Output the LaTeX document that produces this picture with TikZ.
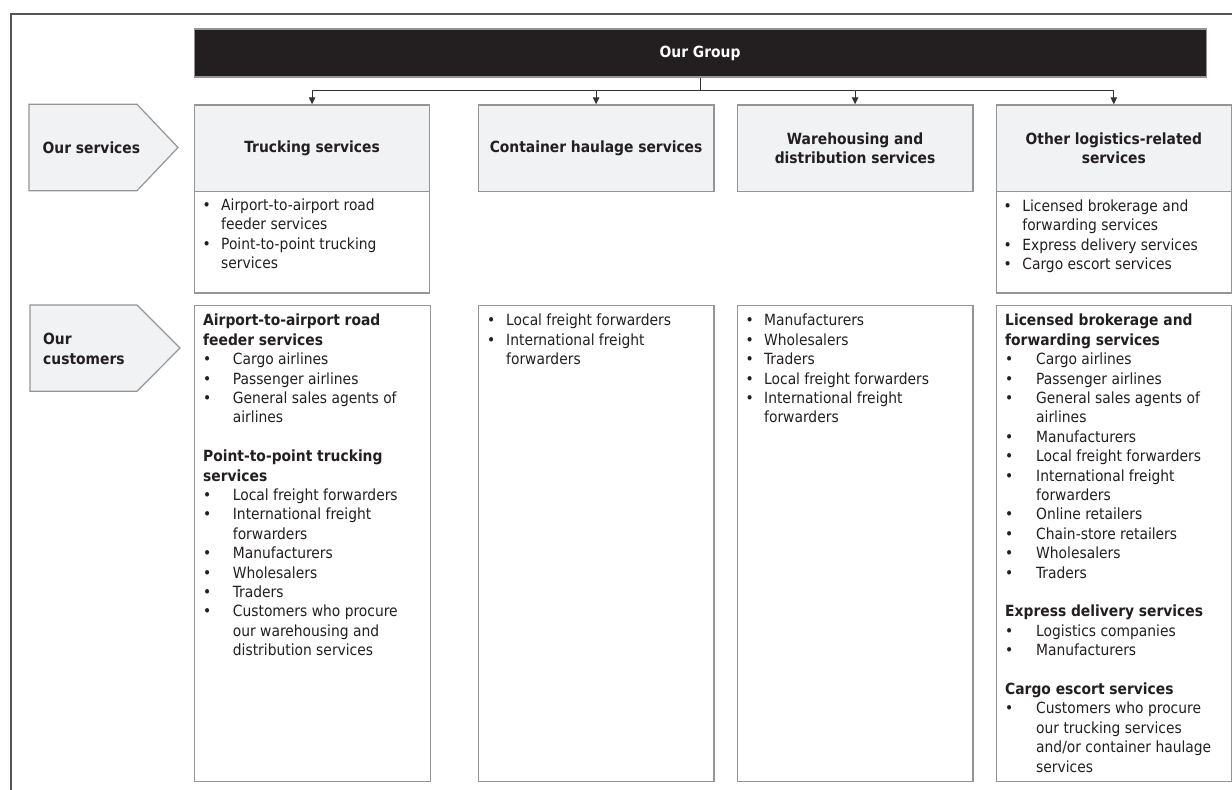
\documentclass[tikz,border=0pt]{standalone}
\usepackage{fontspec}
\setmainfont{DejaVu Sans Condensed}
\usepackage{array}
\usetikzlibrary{arrows.meta}
\definecolor{boxfill}{HTML}{F1F2F4}
\definecolor{boxline}{HTML}{959595}
\definecolor{ink}{HTML}{231F20}
\definecolor{frameline}{HTML}{555555}
\definecolor{connline}{HTML}{333333}
\newcommand{\fs}{\fontsize{15.4}{19.4}\selectfont}
\newcommand{\bul}{\textbullet}
\newcommand{\hd}[1]{\multicolumn{2}{@{}l@{}}{\bfseries #1}}
\tikzset{
  hdrbox/.style 2 args={draw=boxline, line width=1.2pt, fill=boxfill, anchor=north west,
    minimum width=#1, minimum height=#2, inner sep=0pt, align=center,
    font={\fs\bfseries}, text=ink},
  listbox/.style 2 args={draw=boxline, line width=1.2pt, fill=white, anchor=north west,
    minimum width=#1, minimum height=#2, inner sep=0pt},
  grpbox/.style 2 args={draw=boxline, line width=1.2pt, fill=ink, anchor=north west,
    minimum width=#1, minimum height=#2, inner sep=0pt, font={\fs\bfseries}, text=white},
  txt/.style={anchor=north west, inner sep=0pt, text=ink, font=\fs, align=left},
  pent/.style={draw=boxline, line width=1.2pt, fill=boxfill},
  conn/.style={draw=connline, line width=0.9pt, -{Triangle[width=6.5pt,length=7pt]}},
  frame/.style={draw=frameline, line width=1.3pt},
}
\begin{document}
\begin{tikzpicture}[x=1pt,y=-1pt]
\useasboundingbox (0,0) rectangle (1232,790);
% frame
\draw[frame] (1232,14) -- (11,14) -- (11,790);
% group
\node[grpbox={1012pt}{48pt}] (grp) at (193.5,28.3) {Our Group};
% service header boxes
\node[hdrbox={235pt}{86.5pt}] (truck) at (194,104.3) {Trucking services};
\node[hdrbox={235.6pt}{86.5pt}] (cont) at (477.7,104.3) {Container haulage services};
\node[hdrbox={235.6pt}{86.5pt}] (ware) at (736.7,104.3) {Warehousing and\\distribution services};
\node[hdrbox={235pt}{86.5pt}] (other) at (995.7,104.3) {Other logistics-related\\services};
% connectors
\coordinate (bus) at (699.5,90);
\draw[conn] (grp.south) -- (grp.south |- bus) -| (truck.north);
\draw[conn] (grp.south) -- (grp.south |- bus) -| (cont.north);
\draw[conn] (grp.south) -- (grp.south |- bus) -| (ware.north);
\draw[conn] (grp.south) -- (grp.south |- bus) -| (other.north);
% service detail boxes
\node[listbox={235pt}{101.5pt}] (truckd) at (194,190.8) {};
\node[listbox={235pt}{101.5pt}] (otherd) at (995.7,190.8) {};
\node[txt] (truckdt) at (202.5,196.8) {\begin{tabular}{@{}p{18.5pt}@{}l@{}}
\bul & Airport-to-airport road\\
 & feeder services\\
\bul & Point-to-point trucking\\
 & services
\end{tabular}};
\node[txt] (otherdt) at (1003.5,197.5) {\begin{tabular}{@{}p{18.7pt}@{}l@{}}
\bul & Licensed brokerage and\\
 & forwarding services\\
\bul & Express delivery services\\
\bul & Cargo escort services
\end{tabular}};
% left labels
\draw[pent] (29,104.3) -- (137,104.3) -- (178,147.5) -- (137,190.7) -- (29,190.7) -- cycle;
\node[txt, anchor=west, font={\fs\bfseries}] (lserv) at (42.5,147.5) {Our services};
\draw[pent] (30,305) -- (137,305) -- (180,348) -- (137,391.3) -- (30,391.3) -- cycle;
\node[txt, anchor=west, font={\fs\bfseries}] (lcust) at (43,348.8) {Our\\customers};
% customer boxes
\node[listbox={236pt}{476pt}] (ctruck) at (194,305) {};
\node[listbox={235.6pt}{476pt}] (ccont) at (477.7,305) {};
\node[listbox={235.6pt}{476pt}] (cware) at (736.7,305) {};
\node[listbox={235pt}{476pt}] (cother) at (995.7,305) {};
\node[txt] (ctrucktx) at (203,312.1) {\begin{tabular}{@{}p{29.7pt}@{}l@{}}
\hd{Airport-to-airport road}\\
\hd{feeder services}\\
\bul & Cargo airlines\\
\bul & Passenger airlines\\
\bul & General sales agents of\\
 & airlines\\
 & \\
\hd{Point-to-point trucking}\\
\hd{services}\\
\bul & Local freight forwarders\\
\bul & International freight\\
 & forwarders\\
\bul & Manufacturers\\
\bul & Wholesalers\\
\bul & Traders\\
\bul & Customers who procure\\
 & our warehousing and\\
 & distribution services
\end{tabular}};
\node[txt] (cconttx) at (487,312.1) {\begin{tabular}{@{}p{19pt}@{}l@{}}
\bul & Local freight forwarders\\
\bul & International freight\\
 & forwarders
\end{tabular}};
\node[txt] (cwaretx) at (745.5,312.1) {\begin{tabular}{@{}p{18.5pt}@{}l@{}}
\bul & Manufacturers\\
\bul & Wholesalers\\
\bul & Traders\\
\bul & Local freight forwarders\\
\bul & International freight\\
 & forwarders
\end{tabular}};
\node[txt] (cothertx) at (1005,312.1) {\begin{tabular}{@{}p{31pt}@{}l@{}}
\hd{Licensed brokerage and}\\
\hd{forwarding services}\\
\bul & Cargo airlines\\
\bul & Passenger airlines\\
\bul & General sales agents of\\
 & airlines\\
\bul & Manufacturers\\
\bul & Local freight forwarders\\
\bul & International freight\\
 & forwarders\\
\bul & Online retailers\\
\bul & Chain-store retailers\\
\bul & Wholesalers\\
\bul & Traders\\
 & \\
\hd{Express delivery services}\\
\bul & Logistics companies\\
\bul & Manufacturers\\
 & \\
\hd{Cargo escort services}\\
\bul & Customers who procure\\
 & our trucking services\\
 & and/or container haulage\\
 & services
\end{tabular}};
\end{tikzpicture}
\end{document}
